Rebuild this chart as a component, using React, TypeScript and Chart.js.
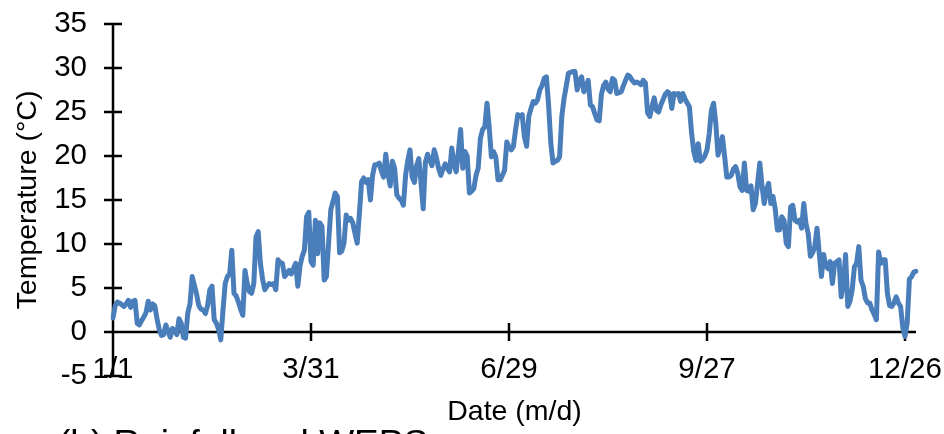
import React, { useEffect, useRef } from 'react';
import { Chart, registerables } from 'chart.js';

Chart.register(...registerables);

// Daily mean air temperature over one (leap) year, starting 1 January.
const YEAR = 2016;
const Y_MIN = -5;
const Y_MAX = 35;
const Y_STEP = 5;

const tickDays = [0, 90, 180, 270, 360];
const tickLabels = ['1/1', '3/31', '6/29', '9/27', '12/26'];

const yAxisTitle = 'Temperature (°C)';
const xAxisTitle = 'Date (m/d)';
const nextPanelCaption = '(b) Rainfall and WEPS';

const dailyTemperature = [
  1.6, 3.0, 3.4, 3.3, 3.1, 2.9, 3.2, 3.6, 2.8, 3.5,
  3.6, 1.0, 0.8, 1.3, 1.7, 2.2, 3.5, 2.5, 3.2, 3.0,
  1.5, 0.3, -0.4, -0.3, 0.8, 0.1, -0.6, 0.4, 0.2, -0.3,
  1.5, 1.0, -0.6, -0.7, 2.2, 3.2, 6.3, 5.3, 4.3, 3.0,
  2.6, 2.5, 2.1, 3.0, 4.8, 5.2, 1.4, 1.0, 0.3, -0.9,
  2.5, 5.5, 6.3, 6.6, 9.3, 4.4, 4.1, 3.4, 2.6, 1.9,
  7.0, 5.5, 4.6, 4.4, 5.5, 10.8, 11.4, 7.8, 6.0, 4.8,
  5.2, 5.5, 5.4, 5.5, 4.8, 8.2, 7.9, 7.8, 6.3, 6.6,
  7.0, 6.6, 7.2, 7.8, 5.2, 7.5, 8.6, 9.3, 13.1, 13.6,
  8.0, 7.6, 12.7, 8.9, 12.4, 12.0, 5.9, 6.3, 10.1, 13.9,
  14.8, 15.8, 15.4, 9.0, 9.2, 10.1, 13.3, 12.7, 12.9, 12.4,
  11.2, 10.1, 13.5, 17.1, 17.5, 17.0, 17.3, 15.0, 17.8, 19.0,
  19.0, 19.2, 18.3, 17.6, 20.2, 18.0, 16.6, 19.4, 18.6, 15.6,
  15.2, 15.0, 14.4, 17.8, 19.5, 20.7, 17.6, 17.0, 18.9, 19.7,
  17.0, 14.0, 19.3, 20.2, 19.5, 18.9, 20.7, 19.8, 18.6, 17.8,
  18.5, 19.1, 18.6, 18.2, 20.9, 19.0, 18.2, 20.5, 23.0, 18.6,
  20.5, 20.0, 15.8, 16.0, 16.3, 17.8, 18.6, 22.0, 23.0, 23.3,
  26.0, 23.3, 19.9, 20.5, 19.9, 17.3, 17.3, 17.8, 18.4, 21.6,
  21.0, 20.7, 21.1, 23.0, 24.7, 24.5, 24.7, 22.2, 21.1, 24.5,
  25.4, 26.2, 26.0, 26.4, 27.5, 28.0, 28.8, 29.0, 25.8, 21.5,
  19.2, 19.4, 19.5, 19.9, 24.5, 26.5, 27.9, 29.4, 29.5, 29.6,
  29.6, 27.5, 28.6, 29.0, 27.3, 27.8, 28.6, 25.8, 25.6, 24.8,
  24.1, 24.0, 27.0, 28.0, 28.4, 27.6, 27.3, 28.8, 28.6, 27.1,
  27.2, 27.3, 28.0, 28.6, 29.2, 29.0, 28.6, 28.3, 28.4, 28.3,
  28.1, 28.6, 28.3, 24.9, 24.5, 25.6, 26.6, 25.2, 25.0, 25.8,
  26.4, 27.0, 27.3, 27.1, 25.4, 27.1, 27.0, 27.1, 26.2, 27.1,
  26.5, 26.0, 25.6, 22.6, 20.5, 19.5, 21.4, 19.4, 19.6, 20.0,
  20.7, 22.5, 25.2, 26.0, 23.7, 20.1, 21.0, 22.2, 20.0, 17.6,
  17.6, 17.8, 18.5, 18.8, 18.0, 16.5, 16.1, 19.2, 16.1, 16.0,
  16.6, 13.9, 14.6, 16.9, 19.2, 16.6, 14.6, 16.1, 16.9, 14.6,
  15.4, 14.0, 11.6, 11.6, 13.1, 12.7, 10.1, 9.7, 14.2, 14.4,
  12.7, 12.5, 12.7, 11.8, 14.6, 12.3, 11.2, 8.6, 9.0, 9.7,
  11.8, 9.0, 6.3, 8.8, 7.5, 7.2, 8.0, 5.5, 7.8, 8.0,
  8.2, 4.0, 5.5, 8.8, 2.9, 3.5, 4.8, 7.4, 7.8, 9.7,
  5.9, 5.2, 3.8, 3.3, 3.3, 2.5, 2.0, 1.4, 9.1, 7.8,
  8.2, 8.2, 4.4, 3.0, 2.9, 3.3, 4.0, 3.3, 2.9, 0.5,
  -0.5, 1.0, 6.0, 6.3, 6.8, 6.9,
];

const dayLabels = dailyTemperature.map((_, i) => {
  const d = new Date(YEAR, 0, 1 + i);
  return `${d.getMonth() + 1}/${d.getDate()}`;
});

const FONT = "'Liberation Sans', Arial, Helvetica, sans-serif";
const LINE_COLOR = '#4A7EBB';

// Axes crossing at zero with tick marks drawn through the axis lines,
// plus the axis caption and the caption of the panel below.
const crossAxesPlugin = {
  id: 'crossAxes',
  beforeDatasetsDraw(chart: any) {
    const { ctx, chartArea, scales } = chart;
    const xs = scales.x;
    const ys = scales.y;
    const left = chartArea.left;
    const y0 = ys.getPixelForValue(0);
    const half = 9;
    ctx.save();
    ctx.strokeStyle = '#000';
    ctx.lineWidth = 2.5;
    ctx.lineCap = 'butt';
    ctx.beginPath();
    ctx.moveTo(left, ys.getPixelForValue(Y_MAX));
    ctx.lineTo(left, ys.getPixelForValue(Y_MIN));
    for (let v = Y_MIN; v <= Y_MAX; v += Y_STEP) {
      const py = ys.getPixelForValue(v);
      ctx.moveTo(left - half, py);
      ctx.lineTo(left + half, py);
    }
    ctx.moveTo(left, y0);
    ctx.lineTo(chartArea.right, y0);
    tickDays.forEach((d) => {
      const px = xs.getPixelForValue(d);
      ctx.moveTo(px, y0 - half);
      ctx.lineTo(px, y0 + half);
    });
    ctx.stroke();
    ctx.restore();
  },
  afterDraw(chart: any) {
    const { ctx, chartArea } = chart;
    ctx.save();
    ctx.fillStyle = '#000';
    ctx.font = `28.5px ${FONT}`;
    ctx.textAlign = 'center';
    ctx.textBaseline = 'middle';
    ctx.fillText(xAxisTitle, (chartArea.left + chartArea.right) / 2, chartArea.bottom + 36);
    ctx.font = `37px ${FONT}`;
    ctx.textAlign = 'left';
    ctx.textBaseline = 'alphabetic';
    ctx.fillText(nextPanelCaption, 58, 456);
    ctx.restore();
  },
};

export default function App() {
  const canvasRef = useRef<HTMLCanvasElement | null>(null);

  useEffect(() => {
    const canvas = canvasRef.current;
    if (!canvas) return;
    Chart.defaults.font.family = FONT;
    Chart.defaults.color = '#000';

    const chart = new Chart(canvas, {
      type: 'line',
      data: {
        labels: dayLabels,
        datasets: [
          {
            label: 'Temperature',
            data: dailyTemperature,
            borderColor: LINE_COLOR,
            backgroundColor: LINE_COLOR,
            borderWidth: 5,
            borderJoinStyle: 'round',
            borderCapStyle: 'round',
            pointRadius: 0,
            pointHoverRadius: 0,
            tension: 0,
            fill: false,
          },
        ],
      },
      options: {
        responsive: false,
        animation: false,
        devicePixelRatio: 1,
        layout: { padding: { top: 24, right: 28, bottom: 58, left: 0 } },
        plugins: {
          legend: { display: false },
          tooltip: { enabled: false },
        },
        scales: {
          x: {
            type: 'category',
            offset: false,
            position: { y: 0 },
            grid: { display: false, drawTicks: false },
            border: { display: false },
            afterBuildTicks: (scale: any) => {
              scale.ticks = scale.ticks.filter((t: any) => tickDays.includes(t.value));
            },
            afterFit: (scale: any) => {
              scale.height = 0;
              scale.paddingLeft = 0;
              scale.paddingRight = 0;
              scale.paddingTop = 0;
              scale.paddingBottom = 0;
            },
            ticks: {
              autoSkip: false,
              maxRotation: 0,
              minRotation: 0,
              padding: 20,
              font: { size: 29.5 },
              color: '#000',
              callback: (value: any) => {
                const k = tickDays.indexOf(Number(value));
                return k >= 0 ? tickLabels[k] : '';
              },
            },
          },
          y: {
            type: 'linear',
            min: Y_MIN,
            max: Y_MAX,
            grid: { display: false, drawTicks: false },
            border: { display: false },
            afterFit: (scale: any) => {
              scale.width = 113;
              scale.paddingTop = 0;
              scale.paddingBottom = 0;
              scale.paddingLeft = 0;
              scale.paddingRight = 0;
            },
            ticks: {
              stepSize: Y_STEP,
              padding: 26,
              font: { size: 29.5 },
              color: '#000',
            },
            title: {
              display: true,
              text: yAxisTitle,
              font: { size: 28.5 },
              color: '#000',
              padding: { top: 11, bottom: 0 },
            },
          },
        },
      },
      plugins: [crossAxesPlugin],
    });

    return () => chart.destroy();
  }, []);

  return (
    <div style={{ position: 'fixed', left: 0, top: 0, width: 944, height: 434, overflow: 'hidden', background: '#fff' }}>
      <canvas ref={canvasRef} width={944} height={434} style={{ display: 'block' }} />
    </div>
  );
}
